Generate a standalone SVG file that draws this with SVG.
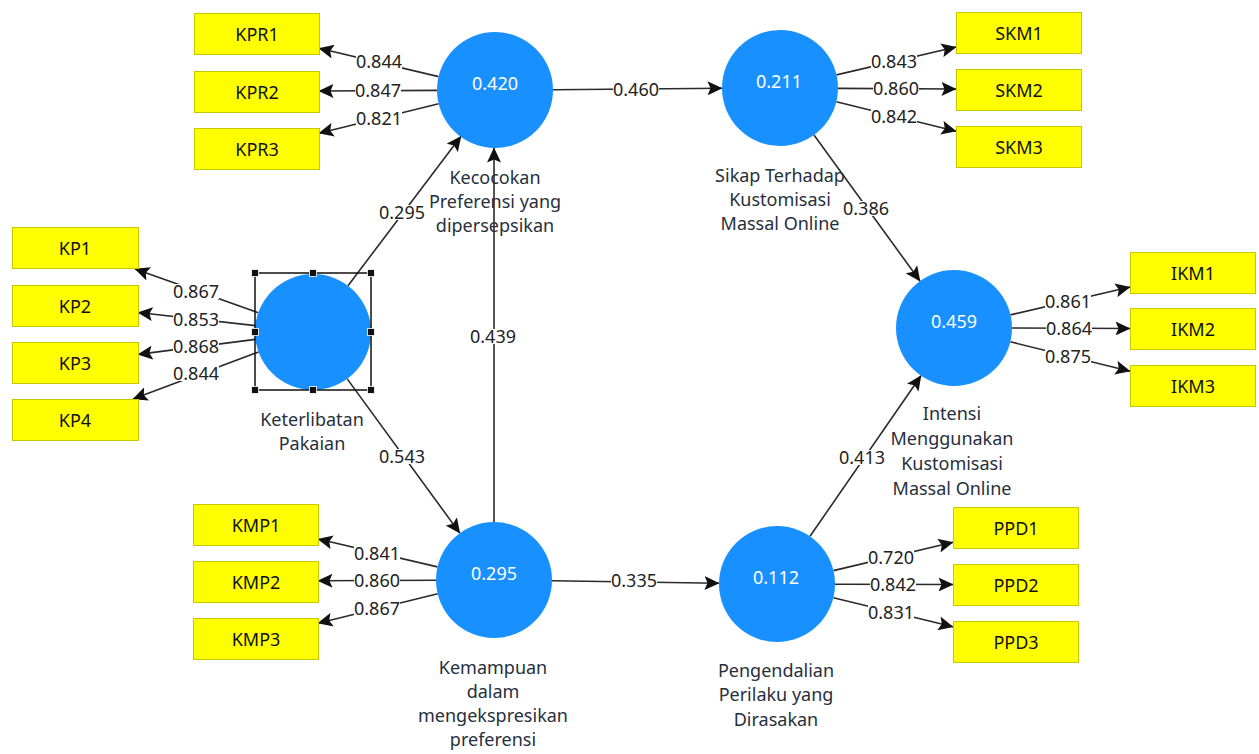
<svg xmlns="http://www.w3.org/2000/svg" width="1259" height="754" viewBox="0 0 1259 754">
<defs>
<marker id="ah" viewBox="0 0 15 14" refX="14.5" refY="7" markerWidth="15" markerHeight="14" orient="auto" markerUnits="userSpaceOnUse"><path d="M0,0 L15,7 L0,14 L3,7 z" fill="#111"/></marker>
<style>
.bx{fill:#ffff00;stroke:#c8c800;stroke-width:1}
.lv{fill:#1890ff}
.t{font-family:"Noto Sans","Liberation Sans",sans-serif;font-size:18px;text-anchor:middle}
.bt{fill:#111}
.cv{fill:#ffffff}
.nm{fill:#26303c}
.ln{stroke:#2a2a2a;stroke-width:1.6;fill:none;marker-end:url(#ah)}
.lb{fill:#ffffff}
.lt{fill:#222}
.sel{fill:none;stroke:#111;stroke-width:1.5}
.hd{fill:#111;stroke:#fff;stroke-width:0.8}
</style>
</defs>
<rect width="1259" height="754" fill="#ffffff"/>

<g id="connectors">
<line class="ln" x1="438.6" y1="76.6" x2="319" y2="48.3"/>
<line class="ln" x1="437" y1="90.4" x2="319" y2="91"/>
<line class="ln" x1="438.7" y1="103.8" x2="319" y2="133.2"/>
<line class="ln" x1="258.3" y1="312.7" x2="135" y2="269"/>
<line class="ln" x1="255.4" y1="325.6" x2="138" y2="312.5"/>
<line class="ln" x1="255.5" y1="339.4" x2="138" y2="354.4"/>
<line class="ln" x1="258.6" y1="352" x2="133" y2="399"/>
<line class="ln" x1="437.5" y1="566.9" x2="318" y2="539"/>
<line class="ln" x1="436" y1="580.2" x2="318" y2="580.8"/>
<line class="ln" x1="437.7" y1="593.8" x2="318" y2="623.2"/>
<line class="ln" x1="836.5" y1="74.9" x2="956" y2="47"/>
<line class="ln" x1="838" y1="88.4" x2="956" y2="89"/>
<line class="ln" x1="836.3" y1="101.8" x2="956" y2="131.2"/>
<line class="ln" x1="1010.5" y1="314.9" x2="1130" y2="287"/>
<line class="ln" x1="1012" y1="328" x2="1130" y2="328.5"/>
<line class="ln" x1="1010.3" y1="341.8" x2="1130" y2="371.2"/>
<line class="ln" x1="833.4" y1="570.6" x2="953" y2="542.3"/>
<line class="ln" x1="835" y1="584.3" x2="953" y2="584.5"/>
<line class="ln" x1="833.4" y1="597.7" x2="953" y2="626.8"/>
<line class="ln" x1="348" y1="285.7" x2="461" y2="136.3"/>
<line class="ln" x1="347.2" y1="378.9" x2="459.8" y2="533.1"/>
<line class="ln" x1="494" y1="522" x2="494" y2="148"/>
<line class="ln" x1="553" y1="89.8" x2="722" y2="88.2"/>
<line class="ln" x1="552" y1="580.8" x2="719" y2="583.2"/>
<line class="ln" x1="814" y1="135" x2="920" y2="281"/>
<line class="ln" x1="810" y1="536.3" x2="921" y2="375.7"/>

<g id="labels">
<rect class="lb" x="356" y="55" width="46" height="15"/><text class="t lt" x="379" y="68">0.844</text>
<rect class="lb" x="355" y="83" width="46" height="15"/><text class="t lt" x="378" y="96.5">0.847</text>
<rect class="lb" x="356" y="111" width="46" height="15"/><text class="t lt" x="379" y="124.5">0.821</text>

<rect class="lb" x="173" y="284" width="46" height="15"/><text class="t lt" x="196" y="298">0.867</text>
<rect class="lb" x="173" y="312" width="46" height="15"/><text class="t lt" x="196" y="326">0.853</text>
<rect class="lb" x="173" y="339" width="46" height="15"/><text class="t lt" x="196" y="353">0.868</text>
<rect class="lb" x="173" y="366" width="46" height="15"/><text class="t lt" x="196" y="380">0.844</text>

<rect class="lb" x="354" y="546" width="46" height="15"/><text class="t lt" x="377" y="559.5">0.841</text>
<rect class="lb" x="354" y="573" width="46" height="15"/><text class="t lt" x="377" y="587">0.860</text>
<rect class="lb" x="354" y="601" width="46" height="15"/><text class="t lt" x="377" y="614.5">0.867</text>

<rect class="lb" x="871" y="54" width="46" height="15"/><text class="t lt" x="894" y="68">0.843</text>
<rect class="lb" x="873" y="81" width="46" height="15"/><text class="t lt" x="896" y="95">0.860</text>
<rect class="lb" x="871" y="109" width="46" height="15"/><text class="t lt" x="894" y="123">0.842</text>

<rect class="lb" x="1045" y="294" width="46" height="15"/><text class="t lt" x="1068" y="308">0.861</text>
<rect class="lb" x="1046" y="321" width="46" height="15"/><text class="t lt" x="1069" y="334.5">0.864</text>
<rect class="lb" x="1045" y="349" width="46" height="15"/><text class="t lt" x="1068" y="363">0.875</text>

<rect class="lb" x="868" y="550" width="46" height="15"/><text class="t lt" x="891" y="564">0.720</text>
<rect class="lb" x="870" y="577" width="46" height="15"/><text class="t lt" x="893" y="591">0.842</text>
<rect class="lb" x="868" y="605" width="46" height="15"/><text class="t lt" x="891" y="619">0.831</text>

<rect class="lb" x="379" y="205" width="46" height="15"/><text class="t lt" x="402" y="219">0.295</text>
<rect class="lb" x="379" y="449" width="46" height="15"/><text class="t lt" x="402" y="463">0.543</text>
<rect class="lb" x="470" y="329" width="46" height="15"/><text class="t lt" x="493" y="342.5">0.439</text>
<rect class="lb" x="613" y="82" width="46" height="15"/><text class="t lt" x="636" y="96">0.460</text>
<rect class="lb" x="611" y="573" width="46" height="15"/><text class="t lt" x="634" y="587">0.335</text>
<rect class="lb" x="843" y="201" width="46" height="15"/><text class="t lt" x="866" y="215">0.386</text>
<rect class="lb" x="839" y="450" width="46" height="15"/><text class="t lt" x="862" y="463.5">0.413</text>
</g>
</g>

<g id="node-KPR">
<circle class="lv" cx="495" cy="90" r="58"/>
<text class="t cv" x="495" y="90">0.420</text>
<text class="t nm" x="495" y="184">Kecocokan</text>
<text class="t nm" x="495" y="208">Preferensi yang</text>
<text class="t nm" x="495" y="232">dipersepsikan</text>
</g>
<g id="node-KP">
<circle class="lv" cx="313" cy="332" r="58"/>
<text class="t nm" x="312" y="426">Keterlibatan</text>
<text class="t nm" x="312" y="450">Pakaian</text>
<rect class="sel" x="255" y="273" width="116" height="117"/>
<rect class="hd" x="251.5" y="269.5" width="7" height="7"/>
<rect class="hd" x="309.5" y="269.5" width="7" height="7"/>
<rect class="hd" x="367.5" y="269.5" width="7" height="7"/>
<rect class="hd" x="251.5" y="328.5" width="7" height="7"/>
<rect class="hd" x="367.5" y="328.5" width="7" height="7"/>
<rect class="hd" x="251.5" y="386.5" width="7" height="7"/>
<rect class="hd" x="309.5" y="386.5" width="7" height="7"/>
<rect class="hd" x="367.5" y="386.5" width="7" height="7"/>
</g>
<g id="node-KMP">
<circle class="lv" cx="494" cy="580" r="58"/>
<text class="t cv" x="494" y="580">0.295</text>
<text class="t nm" x="493" y="674">Kemampuan</text>
<text class="t nm" x="493" y="698">dalam</text>
<text class="t nm" x="493" y="722">mengekspresikan</text>
<text class="t nm" x="493" y="746">preferensi</text>
</g>
<g id="node-SKM">
<circle class="lv" cx="780" cy="88" r="58"/>
<text class="t cv" x="779" y="88">0.211</text>
<text class="t nm" x="780" y="182">Sikap Terhadap</text>
<text class="t nm" x="780" y="206">Kustomisasi</text>
<text class="t nm" x="780" y="230">Massal Online</text>
</g>
<g id="node-IKM">
<circle class="lv" cx="954" cy="328" r="58"/>
<text class="t cv" x="954" y="328">0.459</text>
<text class="t nm" x="952" y="420">Intensi</text>
<text class="t nm" x="952" y="445">Menggunakan</text>
<text class="t nm" x="952" y="470">Kustomisasi</text>
<text class="t nm" x="952" y="495">Massal Online</text>
</g>
<g id="node-PPD">
<circle class="lv" cx="777" cy="584" r="58"/>
<text class="t cv" x="776" y="584">0.112</text>
<text class="t nm" x="776" y="677">Pengendalian</text>
<text class="t nm" x="776" y="701">Perilaku yang</text>
<text class="t nm" x="776" y="726">Dirasakan</text>
</g>

<g id="ind-KPR1"><rect class="bx" x="194.5" y="13.5" width="125" height="41"/><text class="t bt" x="257" y="41">KPR1</text></g>
<g id="ind-KPR2"><rect class="bx" x="194.5" y="71.5" width="125" height="41"/><text class="t bt" x="257" y="99">KPR2</text></g>
<g id="ind-KPR3"><rect class="bx" x="194.5" y="128.5" width="125" height="41"/><text class="t bt" x="257" y="156">KPR3</text></g>

<g id="ind-KP1"><rect class="bx" x="12.5" y="227.5" width="126" height="41"/><text class="t bt" x="75" y="255">KP1</text></g>
<g id="ind-KP2"><rect class="bx" x="12.5" y="285.5" width="126" height="41"/><text class="t bt" x="75" y="313">KP2</text></g>
<g id="ind-KP3"><rect class="bx" x="12.5" y="342.5" width="126" height="41"/><text class="t bt" x="75" y="370">KP3</text></g>
<g id="ind-KP4"><rect class="bx" x="12.5" y="399.5" width="126" height="41"/><text class="t bt" x="75" y="427">KP4</text></g>

<g id="ind-KMP1"><rect class="bx" x="193.5" y="504.5" width="125" height="41"/><text class="t bt" x="256" y="532">KMP1</text></g>
<g id="ind-KMP2"><rect class="bx" x="193.5" y="561.5" width="125" height="41"/><text class="t bt" x="256" y="589">KMP2</text></g>
<g id="ind-KMP3"><rect class="bx" x="193.5" y="618.5" width="125" height="41"/><text class="t bt" x="256" y="646">KMP3</text></g>

<g id="ind-SKM1"><rect class="bx" x="956.5" y="12.5" width="125" height="41"/><text class="t bt" x="1019" y="40">SKM1</text></g>
<g id="ind-SKM2"><rect class="bx" x="956.5" y="69.5" width="125" height="41"/><text class="t bt" x="1019" y="97">SKM2</text></g>
<g id="ind-SKM3"><rect class="bx" x="956.5" y="126.5" width="125" height="41"/><text class="t bt" x="1019" y="154">SKM3</text></g>

<g id="ind-IKM1"><rect class="bx" x="1130.5" y="252.5" width="125" height="41"/><text class="t bt" x="1193" y="280">IKM1</text></g>
<g id="ind-IKM2"><rect class="bx" x="1130.5" y="308.5" width="125" height="41"/><text class="t bt" x="1193" y="336">IKM2</text></g>
<g id="ind-IKM3"><rect class="bx" x="1130.5" y="365.5" width="125" height="41"/><text class="t bt" x="1193" y="393">IKM3</text></g>

<g id="ind-PPD1"><rect class="bx" x="953.5" y="507.5" width="125" height="41"/><text class="t bt" x="1016" y="535">PPD1</text></g>
<g id="ind-PPD2"><rect class="bx" x="953.5" y="564.5" width="125" height="41"/><text class="t bt" x="1016" y="592">PPD2</text></g>
<g id="ind-PPD3"><rect class="bx" x="953.5" y="621.5" width="125" height="41"/><text class="t bt" x="1016" y="649">PPD3</text></g>
</svg>
